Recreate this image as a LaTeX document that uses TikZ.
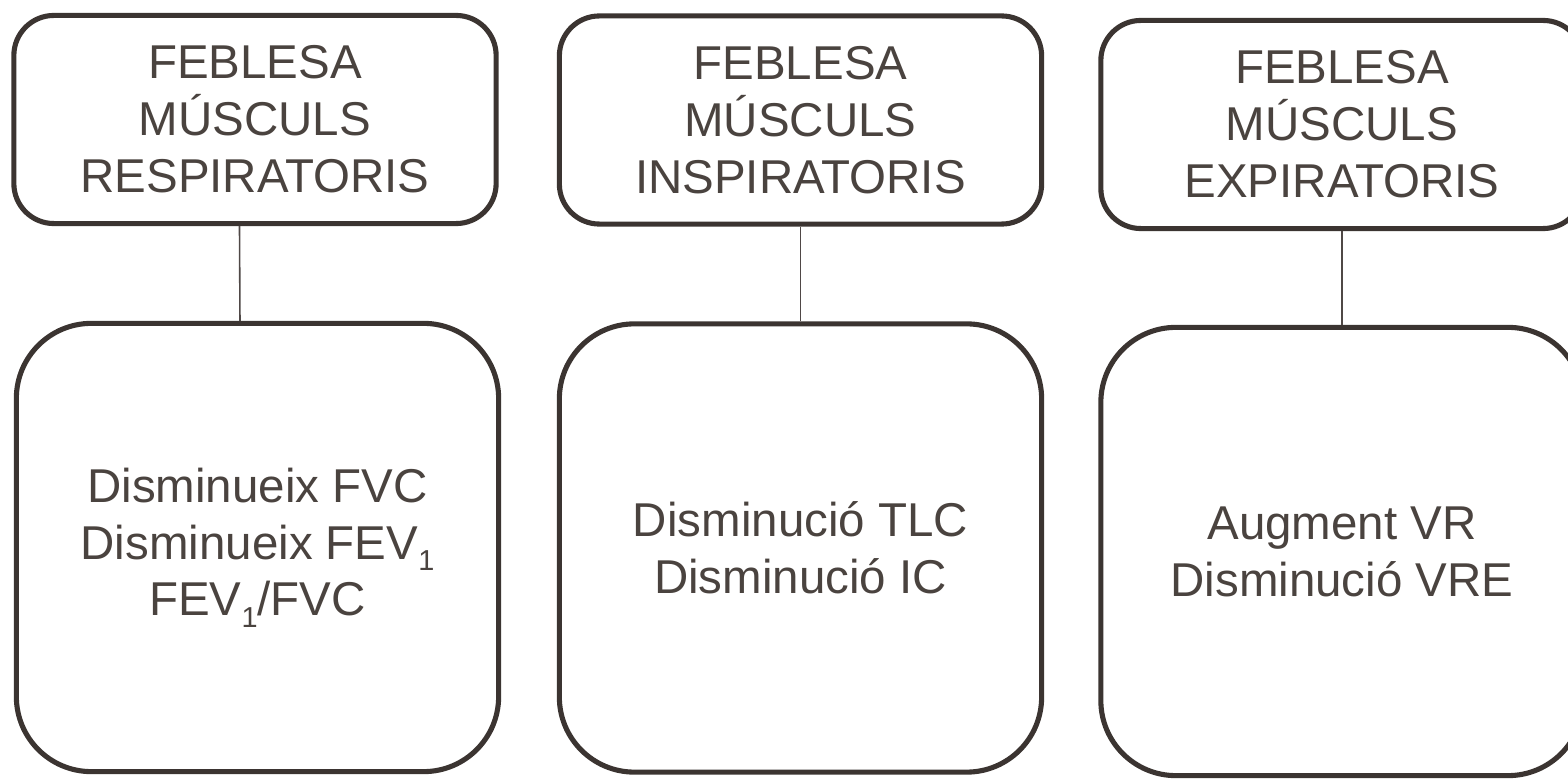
\documentclass[tikz,border=0pt]{standalone}
\usepackage{fontspec}
\setmainfont{Liberation Sans}
\usepackage{tikz}
\usetikzlibrary{calc,positioning}
\definecolor{boxline}{HTML}{3B3431}
\definecolor{boxtext}{HTML}{4A433F}
% index set low and small, as in FEV_1
\newcommand{\lowidx}[1]{\raisebox{-0.24em}{\fontsize{8.2pt}{8.2pt}\selectfont#1}}
\tikzset{
  muscle box/.style={rectangle,draw=boxline,fill=white,line width=1.45pt,
    rounded corners=4mm,minimum width=4.82cm,minimum height=2.08cm,
    align=center,text=boxtext,inner sep=0pt,
    font=\fontsize{13.5pt}{16.2pt}\selectfont},
  effect box/.style={muscle box,rounded corners=7.5mm,minimum height=4.48cm},
  link edge/.style={draw=boxline!90,line width=0.45pt}
}

\begin{document}
\begin{tikzpicture}[x=0.01cm,y=-0.01cm]
    \useasboundingbox (0,0) rectangle (1568,782);
    \coordinate (respirtop) at (255,119.5);
    \coordinate (inspirtop) at (800.5,120);
    \coordinate (expirtop) at (1342,124.5);
    \coordinate (respirbot) at (257.5,547.5);
    \coordinate (inspirbot) at (800.5,548);
    \coordinate (expirbot) at (1342,551.5);
    \node[muscle box] (respir) at (respirtop)
      {FEBLESA\\MÚSCULS\\RESPIRATORIS};
    \node[muscle box] (inspir) at (inspirtop)
      {FEBLESA\\MÚSCULS\\INSPIRATORIS};
    \node[muscle box] (expir) at (expirtop)
      {FEBLESA\\MÚSCULS\\EXPIRATORIS};
    \node[effect box] (respireff) at (respirbot)
      {Disminueix FVC\\Disminueix FEV\lowidx{1}\\FEV\lowidx{1}/FVC};
    \node[effect box] (inspireff) at (inspirbot)
      {Disminució TLC\\Disminució IC};
    \node[effect box] (expireff) at (expirbot)
      {Augment VR\\Disminució VRE};
    \draw[link edge] ([xshift=-1.55mm]respir.south)
      -- ([xshift=-1.75mm]respireff.north);
    \draw[link edge] (inspir.south) -- (inspireff.north);
    \draw[link edge] (expir.south) -- (expireff.north);
  \end{tikzpicture}
\end{document}
